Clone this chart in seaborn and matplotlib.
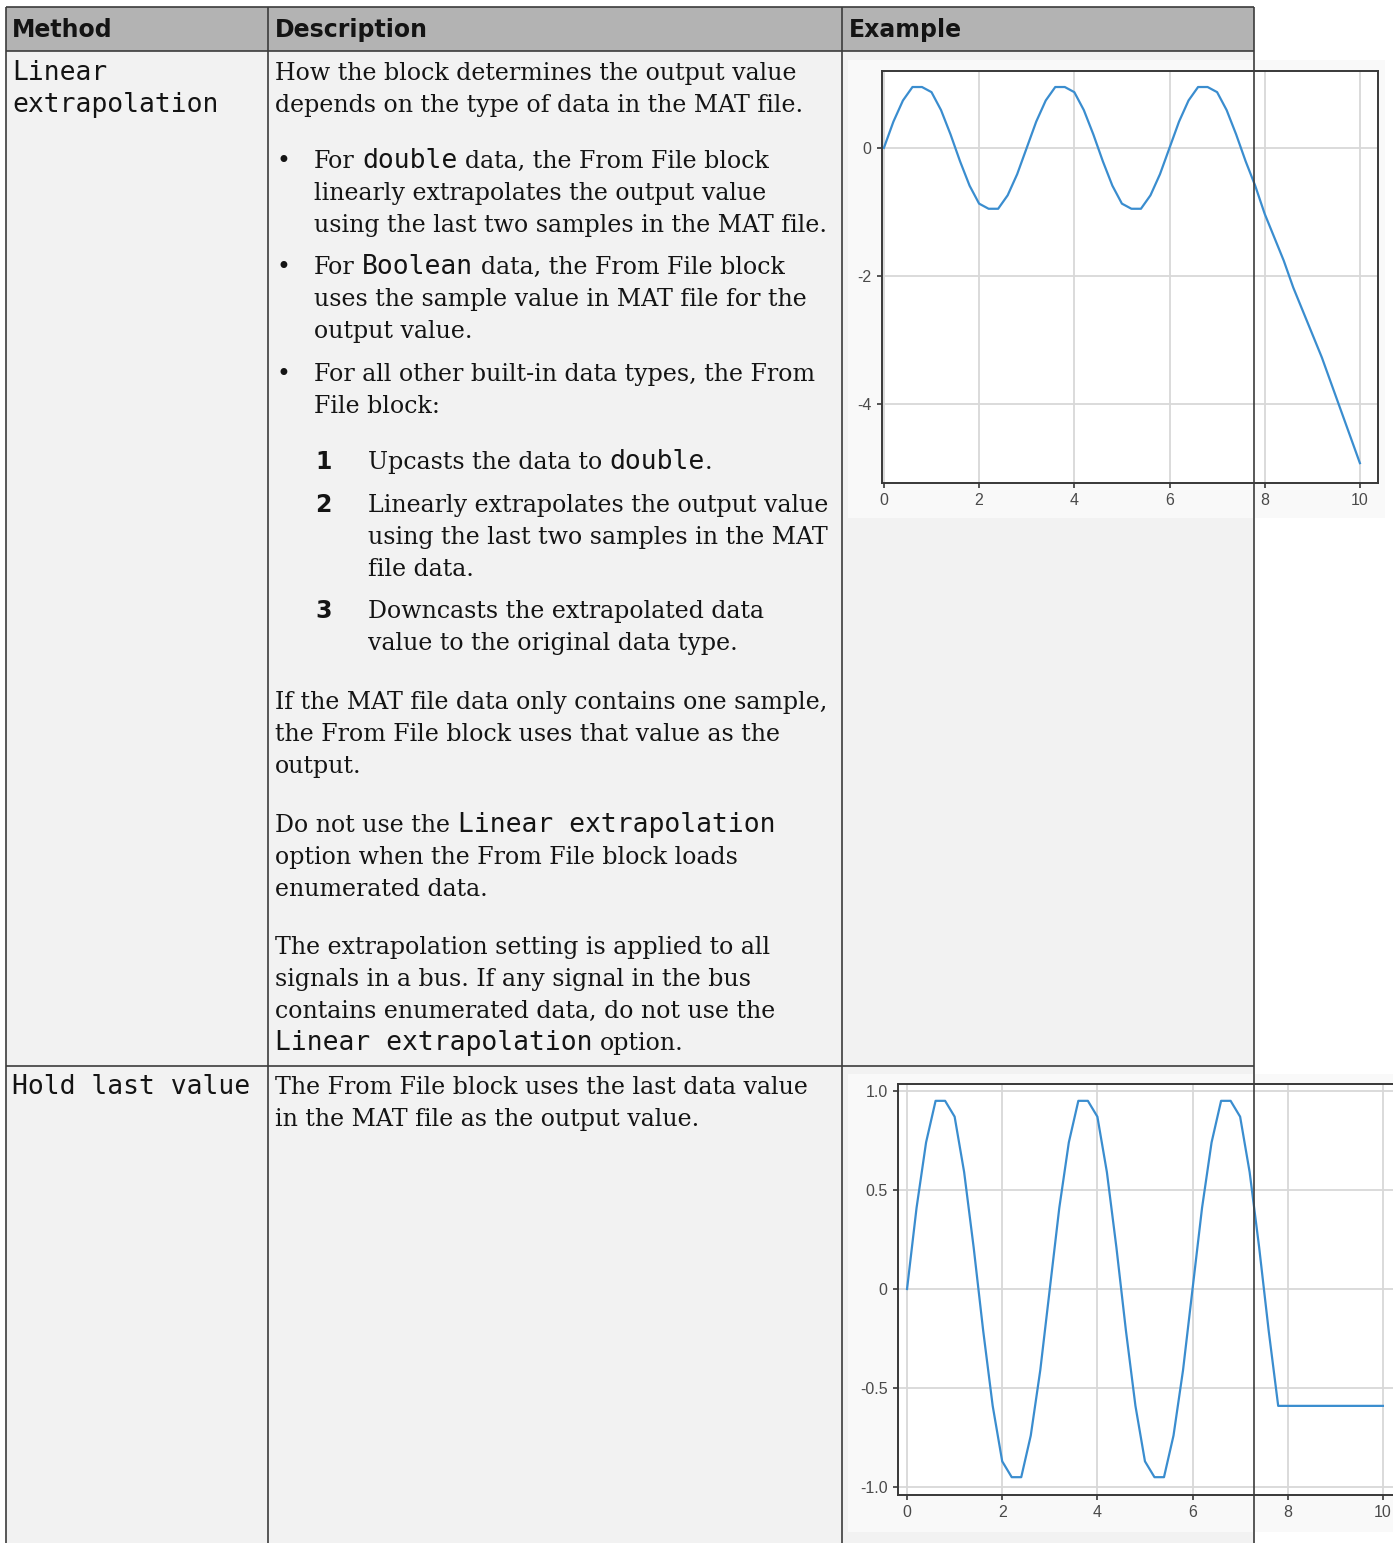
import matplotlib
matplotlib.use("Agg")
import matplotlib.pyplot as plt
from matplotlib.patches import Rectangle
import numpy as np
import pandas as pd
import seaborn as sns

# ---------------- data ----------------
sample_time = [0.0, 0.2, 0.4, 0.6, 0.8, 1.0, 1.2, 1.4, 1.6, 1.8, 2.0, 2.2, 2.4, 2.6, 2.8,
               3.0, 3.2, 3.4, 3.6, 3.8, 4.0, 4.2, 4.4, 4.6, 4.8, 5.0, 5.2, 5.4, 5.6, 5.8,
               6.0, 6.2, 6.4, 6.6, 6.8, 7.0, 7.2, 7.4, 7.6, 7.8]
sample_value = [0.00, 0.41, 0.74, 0.95, 0.95, 0.87, 0.59, 0.21, -0.21, -0.59, -0.87, -0.95, -0.95, -0.74, -0.41,
                0.00, 0.41, 0.74, 0.95, 0.95, 0.87, 0.59, 0.21, -0.21, -0.59, -0.87, -0.95, -0.95, -0.74, -0.41,
                0.00, 0.41, 0.74, 0.95, 0.95, 0.87, 0.59, 0.21, -0.21, -0.59]
extrap_time = [8.0, 8.4, 8.6, 9.2, 10.0]
extrap_value = [-1.03, -1.76, -2.18, -3.27, -4.92]
hold_time = [10.0]
hold_value = [-0.59]

x_ticks = [0, 2, 4, 6, 8, 10]
x_ticklabels = ["0", "2", "4", "6", "8", "10"]
lin_yticks = [0, -2, -4]
lin_yticklabels = ["0", "-2", "-4"]
hold_yticks = [1.0, 0.5, 0.0, -0.5, -1.0]
hold_yticklabels = ["1.0", "0.5", "0", "-0.5", "-1.0"]

headers = ["Method", "Description", "Example"]

# ---------------- figure / background layer ----------------
W, H = 1393, 1543
fig = plt.figure(figsize=(W / 100, H / 100), dpi=100)
fig.patch.set_facecolor("white")
bg = fig.add_axes([0, 0, 1, 1], zorder=0)
bg.set_xlim(0, W)
bg.set_ylim(H, 0)
bg.axis("off")
renderer = fig.canvas.get_renderer()

FONTS = {
    "s": dict(family="DejaVu Serif"),
    "m": dict(family="DejaVu Sans Mono"),
    "b": dict(family="DejaVu Sans", weight="bold"),
}


def text_width(s, key, size):
    t = bg.text(0, 0, s, fontsize=size, **FONTS[key])
    w = t.get_window_extent(renderer).width
    t.remove()
    return w


SIZES = {}
SIZES["s"] = 14 * 526 / text_width("How the block determines the output value", "s", 14)
SIZES["m"] = 14 * 207 / text_width("extrapolation", "m", 14)
SIZES["b"] = 14 * 153 / text_width("Description", "b", 14)
SPACE = {k: text_width("x x", k, SIZES[k]) - text_width("xx", k, SIZES[k]) for k in FONTS}
TXT = "#141414"


def draw_line(x, y, runs):
    if isinstance(runs, str):
        runs = [(runs, "s")]
    for s, key in runs:
        lead = len(s) - len(s.lstrip(" "))
        trail = len(s) - len(s.rstrip(" "))
        x += lead * SPACE[key]
        core = s.strip(" ")
        if core:
            t = bg.text(x, y, core, fontsize=SIZES[key], va="baseline", ha="left",
                        color=TXT, **FONTS[key])
            x += t.get_window_extent(renderer).width
        x += trail * SPACE[key]


# table backgrounds
bg.add_patch(Rectangle((6, 51), 1248, H - 51, facecolor="#F2F2F2", edgecolor="none"))
bg.add_patch(Rectangle((6, 7), 1248, 44, facecolor="#B3B3B3", edgecolor="none"))
# chart image backgrounds
bg.add_patch(Rectangle((848, 60), 537, 458, facecolor="#F9F9F9", edgecolor="none"))
bg.add_patch(Rectangle((848, 1074), 545, 458, facecolor="#F9F9F9", edgecolor="none"))

# header
for hx, htxt in zip([12, 275, 849], headers):
    draw_line(hx, 37, [(htxt, "b")])

# column 1
draw_line(12, 80, [("Linear", "m")])
draw_line(12, 112, [("extrapolation", "m")])
draw_line(12, 1094, [("Hold last value", "m")])

# column 2
draw_line(275, 80, "How the block determines the output value")
draw_line(275, 112, "depends on the type of data in the MAT file.")

for by in [168, 274, 381]:
    bg.text(277, by, "\u2022", fontsize=SIZES["s"], va="baseline", ha="left", color=TXT, **FONTS["s"])
draw_line(314, 168, [("For ", "s"), ("double", "m"), (" data, the From File block", "s")])
draw_line(314, 200, "linearly extrapolates the output value")
draw_line(314, 232, "using the last two samples in the MAT file.")
draw_line(314, 274, [("For ", "s"), ("Boolean", "m"), (" data, the From File block", "s")])
draw_line(314, 306, "uses the sample value in MAT file for the")
draw_line(314, 338, "output value.")
draw_line(314, 381, "For all other built-in data types, the From")
draw_line(314, 413, "File block:")

for num, ny in zip(["1", "2", "3"], [469, 512, 618]):
    draw_line(315, ny, [(num, "b")])
draw_line(368, 469, [("Upcasts the data to ", "s"), ("double", "m"), (".", "s")])
draw_line(368, 512, "Linearly extrapolates the output value")
draw_line(368, 544, "using the last two samples in the MAT")
draw_line(368, 576, "file data.")
draw_line(368, 618, "Downcasts the extrapolated data")
draw_line(368, 650, "value to the original data type.")

draw_line(275, 709, "If the MAT file data only contains one sample,")
draw_line(275, 741, "the From File block uses that value as the")
draw_line(275, 773, "output.")
draw_line(275, 832, [("Do not use the ", "s"), ("Linear extrapolation", "m")])
draw_line(275, 864, "option when the From File block loads")
draw_line(275, 896, "enumerated data.")
draw_line(275, 954, "The extrapolation setting is applied to all")
draw_line(275, 986, "signals in a bus. If any signal in the bus")
draw_line(275, 1018, "contains enumerated data, do not use the")
draw_line(275, 1050, [("Linear extrapolation", "m"), (" option.", "s")])
draw_line(275, 1094, "The From File block uses the last data value")
draw_line(275, 1126, "in the MAT file as the output value.")


# ---------------- charts ----------------
def px_axes(left, top, right, bottom, z=5):
    return fig.add_axes([left / W, 1 - bottom / H, (right - left) / W, (bottom - top) / H], zorder=z)


LINE_C = "#3A8DCF"
GRID_C = "#D8D8D8"
SPINE_C = "#383838"
TICK_C = "#4A4A4A"


def style_axes(ax, yticks, yticklabels):
    ax.set_facecolor("white")
    ax.set_xticks(x_ticks)
    ax.set_xticklabels(x_ticklabels)
    ax.set_yticks(yticks)
    ax.set_yticklabels(yticklabels)
    ax.grid(True, color=GRID_C, linewidth=1.3)
    ax.set_axisbelow(True)
    for sp in ax.spines.values():
        sp.set_color(SPINE_C)
        sp.set_linewidth(1.4)
    ax.tick_params(direction="out", length=3.5, width=1.2, color=SPINE_C,
                   labelcolor=TICK_C, labelsize=11.5, pad=4)
    for lab in ax.get_xticklabels() + ax.get_yticklabels():
        lab.set_family("Liberation Sans")
    ax.set_xlabel("")
    ax.set_ylabel("")


lin_df = pd.DataFrame({"t": sample_time + extrap_time, "y": sample_value + extrap_value})
hold_df = pd.DataFrame({"t": sample_time + hold_time, "y": sample_value + hold_value})

ax1 = px_axes(882, 71, 1378, 483)
sns.lineplot(data=lin_df, x="t", y="y", ax=ax1, color=LINE_C, linewidth=1.6, estimator=None, sort=False)
ax1.set_xlim(-0.04, 10.38)
ax1.set_ylim(-5.23, 1.2)
style_axes(ax1, lin_yticks, lin_yticklabels)

ax2 = px_axes(898, 1084, 1400, 1495)
sns.lineplot(data=hold_df, x="t", y="y", ax=ax2, color=LINE_C, linewidth=1.6, estimator=None, sort=False)
ax2.set_xlim(-0.19, 10.36)
ax2.set_ylim(-1.04, 1.035)
style_axes(ax2, hold_yticks, hold_yticklabels)

# ---------------- table grid lines (on top) ----------------
ov = fig.add_axes([0, 0, 1, 1], zorder=20)
ov.set_xlim(0, W)
ov.set_ylim(H, 0)
ov.axis("off")
ov.patch.set_alpha(0)
LC = "#3C3C3C"
LW = 1.2
for yy in [7, 51, 1066]:
    ov.plot([6, 1254], [yy, yy], color=LC, lw=LW, solid_capstyle="butt")
for xx in [6, 268, 842, 1254]:
    ov.plot([xx, xx], [7, H], color=LC, lw=LW, solid_capstyle="butt")

fig.savefig("out.png", dpi=100)
